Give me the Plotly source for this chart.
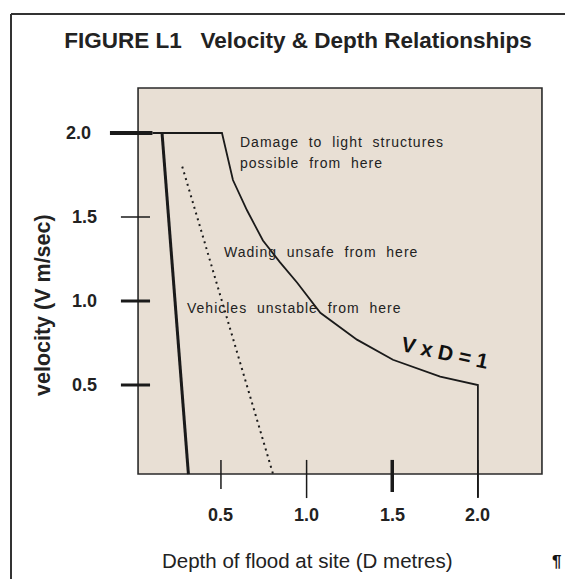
import plotly.graph_objects as go

# Threshold curves: depth of flood (m) against velocity (m/s)
vehicles_depth = [0.156, 0.31]
vehicles_velocity = [2.0, -0.03]

wading_depth = [0.274, 0.804]
wading_velocity = [1.80, -0.03]

damage_depth = [0.10, 0.506, 0.570, 0.652, 0.745, 0.845, 0.944, 1.08, 1.294, 1.504, 1.78, 2.0, 2.0]
damage_velocity = [2.0, 2.0, 1.72, 1.54, 1.36, 1.23, 1.11, 0.93, 0.77, 0.65, 0.55, 0.50, -0.17]

# Axis ticks
x_tick_values = [0.5, 1.0, 1.5, 2.0]
x_tick_labels = ["0.5", "1.0", "1.5", "2.0"]
y_tick_values = [0.5, 1.0, 1.5, 2.0]
y_tick_labels = ["0.5", "1.0", "1.5", "2.0"]

# Region labels
region_labels = [
    "Damage  to  light  structures",
    "possible  from  here",
    "Wading  unsafe  from  here",
    "Vehicles  unstable  from  here",
]
region_label_depth = [0.600, 0.600, 0.506, 0.290]
region_label_velocity = [1.946, 1.821, 1.292, 0.958]

W, H = 565, 579
X_RANGE = [-0.7899, 2.5085]
Y_RANGE = [-0.6548, 2.7917]
BOX_X = [0.016, 2.374]
BOX_Y = [-0.03, 2.268]
INK = "#1a1a1a"
FONT = "Arial, Liberation Sans, sans-serif"

fig = go.Figure()

# Shaded plotting box
fig.add_shape(type="rect", x0=BOX_X[0], x1=BOX_X[1], y0=BOX_Y[0], y1=BOX_Y[1],
              xref="x", yref="y", fillcolor="#E8DFD4",
              line=dict(color="#2a2a2a", width=1.6), layer="below")

fig.add_trace(go.Scatter(x=vehicles_depth, y=vehicles_velocity, mode="lines",
                         line=dict(color=INK, width=3), hoverinfo="skip"))
fig.add_trace(go.Scatter(x=wading_depth, y=wading_velocity, mode="lines",
                         line=dict(color=INK, width=2, dash="2px,4px"), hoverinfo="skip"))
fig.add_trace(go.Scatter(x=damage_depth, y=damage_velocity, mode="lines",
                         line=dict(color=INK, width=1.8), hoverinfo="skip"))

# Tick marks crossing the box edges
x_tick_width = [1.5, 1.5, 3.5, 1.5]
x_tick_bottom = [-0.119, -0.173, -0.137, -0.173]
for v, w, b in zip(x_tick_values, x_tick_width, x_tick_bottom):
    fig.add_shape(type="line", x0=v, x1=v, y0=0.054, y1=b, xref="x", yref="y",
                  line=dict(color=INK, width=w))

y_tick_width = [3, 3, 1.5, 4]
y_tick_left = [-0.084, -0.084, -0.084, -0.148]
y_tick_right = [0.086, 0.086, 0.086, 0.10]
for v, w, l, r in zip(y_tick_values, y_tick_width, y_tick_left, y_tick_right):
    fig.add_shape(type="line", x0=l, x1=r, y0=v, y1=v, xref="x", yref="y",
                  line=dict(color=INK, width=w))

annotations = []
for v, t in zip(x_tick_values, x_tick_labels):
    annotations.append(dict(x=v, y=-0.274, text=f"<b>{t}</b>", showarrow=False,
                            xanchor="center", yanchor="middle",
                            font=dict(family=FONT, size=18, color="#222")))
y_label_x = [-0.294, -0.294, -0.294, -0.329]
for v, t, lx in zip(y_tick_values, y_tick_labels, y_label_x):
    annotations.append(dict(x=lx, y=v, text=f"<b>{t}</b>", showarrow=False,
                            xanchor="center", yanchor="middle",
                            font=dict(family=FONT, size=18, color="#222")))

for t, d, v in zip(region_labels, region_label_depth, region_label_velocity):
    annotations.append(dict(x=d, y=v, text=f'<span style="letter-spacing:1px">{t}</span>',
                            showarrow=False, xanchor="left", yanchor="middle",
                            font=dict(family=FONT, size=14, color="#222")))

annotations.append(dict(x=1.808, y=0.696, text="<b>V x D = 1</b>", showarrow=False,
                        textangle=12, xanchor="center", yanchor="middle",
                        font=dict(family=FONT, size=21, color="#111")))

# Axis titles
annotations.append(dict(x=307 / W, y=1 - 560 / H, xref="paper", yref="paper",
                        text="Depth of flood at site (D metres)", showarrow=False,
                        xanchor="center", yanchor="middle",
                        font=dict(family=FONT, size=20.5, color="#222")))
annotations.append(dict(x=43 / W, y=1 - 305 / H, xref="paper", yref="paper",
                        text="<b>velocity (V m/sec)</b>", showarrow=False, textangle=-90,
                        xanchor="center", yanchor="middle",
                        font=dict(family=FONT, size=21.5, color="#222")))
annotations.append(dict(x=563 / W, y=1 - 561 / H, xref="paper", yref="paper",
                        text="<b>¶</b>", showarrow=False, xanchor="right", yanchor="middle",
                        font=dict(family=FONT, size=17, color="#111")))

# Outer frame (top and left edges)
fig.add_shape(type="line", x0=11 / W, x1=1, y0=1 - 14 / H, y1=1 - 14 / H,
              xref="paper", yref="paper", line=dict(color="#333", width=2))
fig.add_shape(type="line", x0=11 / W, x1=11 / W, y0=0, y1=1 - 14 / H,
              xref="paper", yref="paper", line=dict(color="#333", width=2))

fig.update_layout(
    width=W, height=H, autosize=False,
    margin=dict(l=0, r=0, t=0, b=0),
    paper_bgcolor="white", plot_bgcolor="white",
    showlegend=False,
    title=dict(text="<b>FIGURE L1\u00a0\u00a0 Velocity & Depth Relationships</b>",
               x=298 / W, y=1 - 40 / H, xanchor="center", yanchor="middle",
               font=dict(family=FONT, size=22.5, color="#222")),
    xaxis=dict(range=X_RANGE, visible=False, fixedrange=True),
    yaxis=dict(range=Y_RANGE, visible=False, fixedrange=True),
    annotations=annotations,
)

fig.write_html("out.html")
